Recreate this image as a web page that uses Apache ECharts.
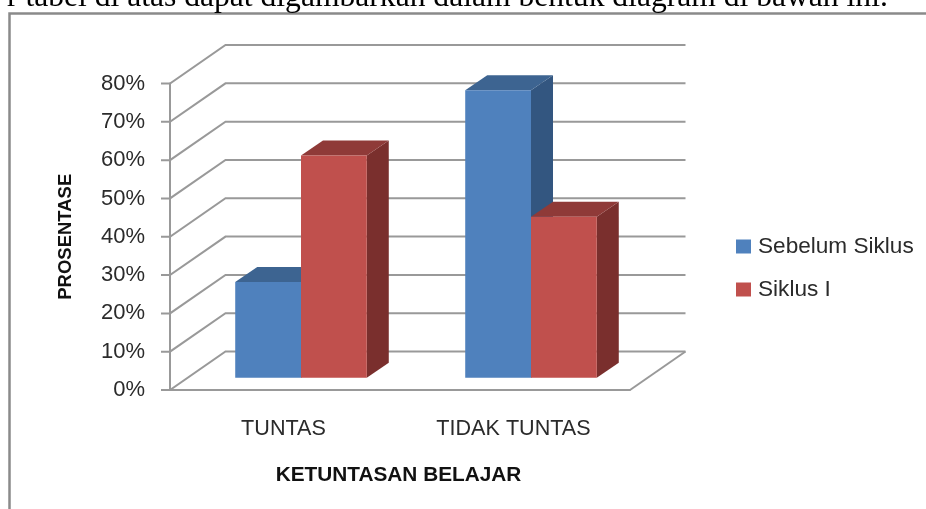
<!DOCTYPE html>
<html>
<head>
<meta charset="utf-8">
<title>Ketuntasan Belajar</title>
<script src="https://cdn.jsdelivr.net/npm/echarts@6/dist/echarts.min.js"></script>
<style>
  html, body { margin: 0; padding: 0; background: #fff; }
  #main { width: 926px; height: 509px; }
</style>
</head>
<body>
<div id="main"></div>
<script>
const categories = ["TUNTAS", "TIDAK TUNTAS"];
const sebelumSiklus = [25, 75];
const siklusI = [58, 42];
const tickValues = [0, 10, 20, 30, 40, 50, 60, 70, 80];

// kedalaman dinding belakang dan batang (pseudo 3D)
const wallDx = 55.5, wallDy = 38.5;
const barDx = 22, barDy = 15;
const liftX = 16, liftY = 12.3;
const barShare = 0.286; // lebar satu batang terhadap lebar kategori
const tickLen = 9;
const lineColor = "#999999";
const textColor = "#2b2b2b";

const renderWall = (params, api) => {
  const sys = params.coordSys;
  const y = api.coord([0, api.value(1)])[1];
  const left = sys.x, right = sys.x + sys.width;
  const children = [{
    type: "polyline",
    shape: { points: [[left - tickLen, y], [left, y], [left + wallDx, y - wallDy], [right + wallDx, y - wallDy]] },
    style: { stroke: lineColor, lineWidth: 2, fill: "none" },
  }];
  // tepi kanan lantai
  if (api.value(1) === 0) {
    children.push({
      type: "line",
      shape: { x1: right, y1: y, x2: right + wallDx, y2: y - wallDy },
      style: { stroke: lineColor, lineWidth: 2 },
    });
  }
  return { type: "group", children };
};

const renderBar = (offset, front, top, side) => (params, api) => {
  const cat = api.value(0);
  const w = api.size([1, 0])[0] * barShare;
  const p = api.coord([cat, api.value(1)]);
  const base = api.coord([cat, 0]);
  const x0 = p[0] + liftX + offset * w, x1 = x0 + w;
  const yTop = p[1] - liftY, yBase = base[1] - liftY;
  return {
    type: "group",
    children: [
      { type: "polygon", shape: { points: [[x1, yTop], [x1 + barDx, yTop - barDy], [x1 + barDx, yBase - barDy], [x1, yBase]] }, style: { fill: side } },
      { type: "polygon", shape: { points: [[x0, yTop], [x0 + barDx, yTop - barDy], [x1 + barDx, yTop - barDy], [x1, yTop]] }, style: { fill: top } },
      { type: "rect", shape: { x: x0, y: yTop, width: w, height: yBase - yTop }, style: { fill: front } },
    ],
  };
};

const chart = echarts.init(document.getElementById("main"), null, { renderer: "canvas" });
chart.setOption({
  animation: false,
  backgroundColor: "#fff",
  grid: { left: 170, right: 296, top: 83.5, bottom: 119 },
  legend: {
    data: ["Sebelum Siklus", "Siklus I"],
    orient: "vertical",
    left: 731,
    top: 230,
    itemWidth: 15,
    itemHeight: 14,
    itemGap: 20,
    icon: "rect",
    textStyle: { fontFamily: "Liberation Sans", fontSize: 22.6, color: textColor, padding: [0, 0, 0, 2] },
  },
  xAxis: {
    type: "category",
    data: categories,
    axisLine: { lineStyle: { color: lineColor, width: 2 } },
    axisTick: { show: false },
    axisLabel: { fontFamily: "Liberation Sans", fontSize: 21.6, color: textColor, margin: 28, padding: [0, 3, 0, 0] },
    name: "KETUNTASAN BELAJAR",
    nameLocation: "middle",
    nameGap: 75,
    nameTextStyle: { fontFamily: "Liberation Sans", fontWeight: "bold", fontSize: 20.8, color: "#111", padding: [0, 3, 0, 0] },
  },
  yAxis: {
    type: "value",
    min: 0,
    max: 80,
    interval: 10,
    axisLine: { show: true, lineStyle: { color: lineColor, width: 2 } },
    axisTick: { show: false },
    axisLabel: { formatter: "{value}%", fontFamily: "Liberation Sans", fontSize: 22, color: textColor, margin: 25 },
    splitLine: { show: false },
    name: "PROSENTASE",
    nameLocation: "middle",
    nameGap: 95,
    nameTextStyle: { fontFamily: "Liberation Sans", fontWeight: "bold", fontSize: 18.5, color: "#111" },
  },
  graphic: [
    {
      type: "rect",
      silent: true,
      shape: { x: 9.5, y: 13.5, width: 1000, height: 600 },
      style: { fill: "none", stroke: "#8a8a8a", lineWidth: 2.5 },
    },
    {
      type: "text",
      silent: true,
      x: 7,
      y: -18,
      style: {
        text: "r tabel di atas dapat digambarkan dalam bentuk diagram di bawah ini.",
        font: "31.6px 'Liberation Serif'",
        fill: "#000",
      },
    },
  ],
  series: [
    {
      name: "dinding",
      type: "custom",
      silent: true,
      renderItem: renderWall,
      data: tickValues.map((t) => [0, t]),
    },
    {
      name: "Sebelum Siklus",
      type: "custom",
      renderItem: renderBar(-1, "#4f81bd", "#3d6491", "#335680"),
      itemStyle: { color: "#4f81bd" },
      data: sebelumSiklus.map((v, i) => [i, v]),
    },
    {
      name: "Siklus I",
      type: "custom",
      renderItem: renderBar(0, "#c0504d", "#8f3a38", "#7a2f2d"),
      itemStyle: { color: "#c0504d" },
      data: siklusI.map((v, i) => [i, v]),
    },
  ],
});
</script>
</body>
</html>
